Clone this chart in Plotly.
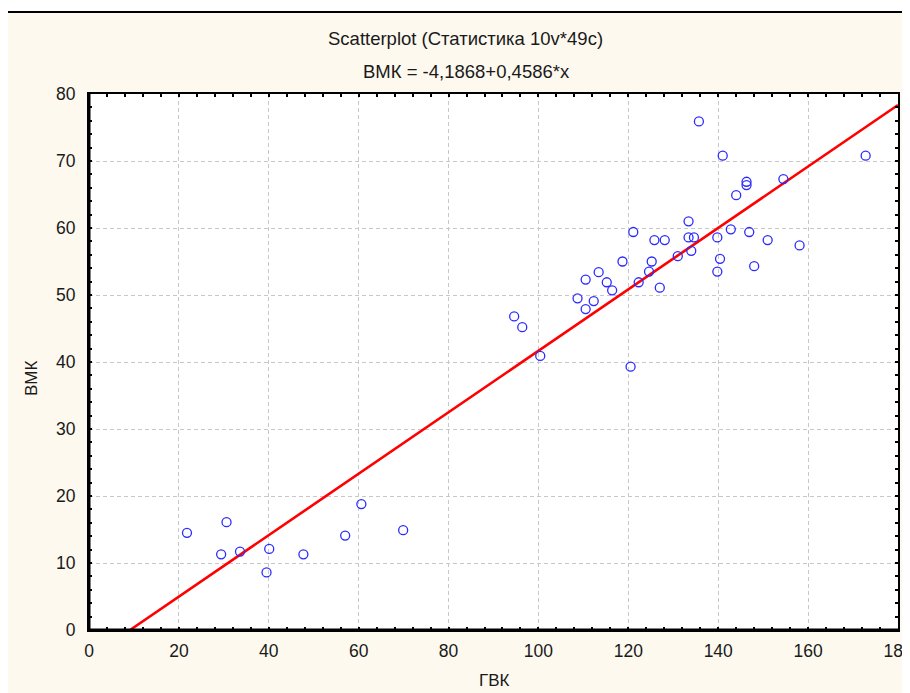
import plotly.graph_objects as go

# ---- data ----
gvk = [21.8, 30.6, 29.4, 33.6, 40.1, 39.5, 47.7, 57.0, 60.6, 69.9,
       94.6, 96.4, 100.4, 120.5, 108.7, 110.5, 110.5, 112.3, 113.4, 115.2,
       116.4, 118.7, 121.1, 122.3, 124.6, 125.2, 125.8, 127.0, 128.1, 131.0,
       133.4, 133.4, 134.6, 134.0, 135.7, 139.8, 139.8, 140.4, 141.0, 142.8,
       144.0, 146.3, 146.3, 146.9, 148.0, 151.0, 154.5, 158.1, 172.8]
vmk = [14.5, 16.1, 11.3, 11.7, 12.1, 8.6, 11.3, 14.1, 18.8, 14.9,
       46.8, 45.2, 40.9, 39.3, 49.5, 47.9, 52.3, 49.1, 53.4, 51.9,
       50.7, 55.0, 59.4, 51.9, 53.5, 55.0, 58.2, 51.1, 58.2, 55.8,
       61.0, 58.6, 58.6, 56.6, 75.9, 58.6, 53.5, 55.4, 70.8, 59.8,
       64.9, 66.9, 66.4, 59.4, 54.3, 58.2, 67.3, 57.4, 70.8]
intercept = -4.1868
slope = 0.4586
x_range = [0, 180]
y_range = [0, 80]
title_text = "Scatterplot (Статистика 10v*49c)"
subtitle_text = "ВМК = -4,1868+0,4586*x"
x_title = "ГВК"
y_title = "ВМК"

# regression line endpoints derived from the fitted coefficients
x_start = -intercept / slope
line_x = [x_start, x_range[1]]
line_y = [intercept + slope * v for v in line_x]

OFF = 8  # page body margin
WIN_W, WIN_H = 910, 693
W, H = WIN_W - OFF, WIN_H - OFF  # keep the figure inside the window
# desired plot area in window pixels: x 89..898, y 94..630
PL, PR, PT, PB = 89, 898, 94, 630
L = PL - OFF
R = W - (PR - OFF)
T = PT - OFF
B = H - (PB - OFF)
pw = PR - PL
ph = PB - PT

def px_x(p):  # window pixel -> paper x
    return (p - PL) / pw

def px_y(p):  # window pixel -> paper y
    return (PB - p) / ph

FONT = "Liberation Sans, Arial, sans-serif"
CREAM = "#fdf9ef"
TXT = "#1a1a1a"

fig = go.Figure()
fig.add_trace(go.Scatter(
    x=line_x, y=line_y, mode="lines",
    line=dict(color="#ff0000", width=2.6),
    hoverinfo="skip", showlegend=False,
))
fig.add_trace(go.Scatter(
    x=gvk, y=vmk, mode="markers",
    marker=dict(symbol="circle-open", size=9, color="#2a2aff",
                line=dict(width=1.3, color="#2a2aff")),
    showlegend=False,
))

axis_common = dict(
    showline=True, linecolor="black", linewidth=2, mirror="allticks",
    ticks="inside", ticklen=3, tickwidth=2, tickcolor="black",
    showgrid=True, gridcolor="#c8c8c8", gridwidth=1, griddash="4px,3px",
    zeroline=False, ticklabeloverflow="allow", automargin=False,
    tickfont=dict(family=FONT, size=17.5, color=TXT),
)

fig.update_xaxes(range=x_range, dtick=20, tick0=0,
                 minor=dict(dtick=4, ticks="inside", ticklen=3, tickwidth=2,
                            tickcolor="black", showgrid=False),
                 ticklabelstandoff=4, **axis_common)
fig.update_yaxes(range=y_range, dtick=10, tick0=0,
                 minor=dict(dtick=2, ticks="inside", ticklen=3, tickwidth=2,
                            tickcolor="black", showgrid=False),
                 ticklabelstandoff=8, **axis_common)

shapes = [
    # white strips outside the framed panel
    dict(type="rect", xref="paper", yref="paper",
         x0=px_x(-20), x1=px_x(WIN_W + 20), y0=px_y(12), y1=px_y(-20),
         fillcolor="white", line=dict(width=0), layer="below"),
    dict(type="rect", xref="paper", yref="paper",
         x0=px_x(-20), x1=px_x(5), y0=px_y(WIN_H + 20), y1=px_y(-20),
         fillcolor="white", line=dict(width=0), layer="below"),
    # outer frame
    dict(type="rect", xref="paper", yref="paper",
         x0=px_x(5), x1=px_x(WIN_W + 20), y0=px_y(WIN_H + 20), y1=px_y(12),
         fillcolor="rgba(0,0,0,0)", line=dict(color="black", width=2),
         layer="above"),
    # heavier left and bottom axis lines
    dict(type="line", xref="paper", yref="paper",
         x0=0, x1=0, y0=0, y1=1, line=dict(color="black", width=3)),
    dict(type="line", xref="paper", yref="paper",
         x0=0, x1=1, y0=0, y1=0, line=dict(color="black", width=3)),
]

annotations = [
    dict(text=title_text, xref="paper", yref="paper",
         x=px_x(465), y=px_y(39), showarrow=False,
         xanchor="center", yanchor="middle",
         font=dict(family=FONT, size=18.5, color=TXT)),
    dict(text=subtitle_text, xref="paper", yref="paper",
         x=px_x(466), y=px_y(72), showarrow=False,
         xanchor="center", yanchor="middle",
         font=dict(family=FONT, size=18.5, color=TXT)),
    dict(text=x_title, xref="paper", yref="paper",
         x=px_x(494), y=px_y(680), showarrow=False,
         xanchor="center", yanchor="middle",
         font=dict(family=FONT, size=17, color=TXT)),
    dict(text=y_title, xref="paper", yref="paper",
         x=px_x(31), y=px_y(378), showarrow=False, textangle=-90,
         xanchor="center", yanchor="middle",
         font=dict(family=FONT, size=17, color=TXT)),
]

fig.update_layout(
    width=W, height=H,
    margin=dict(l=L, r=R, t=T, b=B, pad=0, autoexpand=False),
    paper_bgcolor=CREAM, plot_bgcolor="white",
    shapes=shapes, annotations=annotations,
    showlegend=False,
    font=dict(family=FONT),
)

fig.write_html("out.html")
